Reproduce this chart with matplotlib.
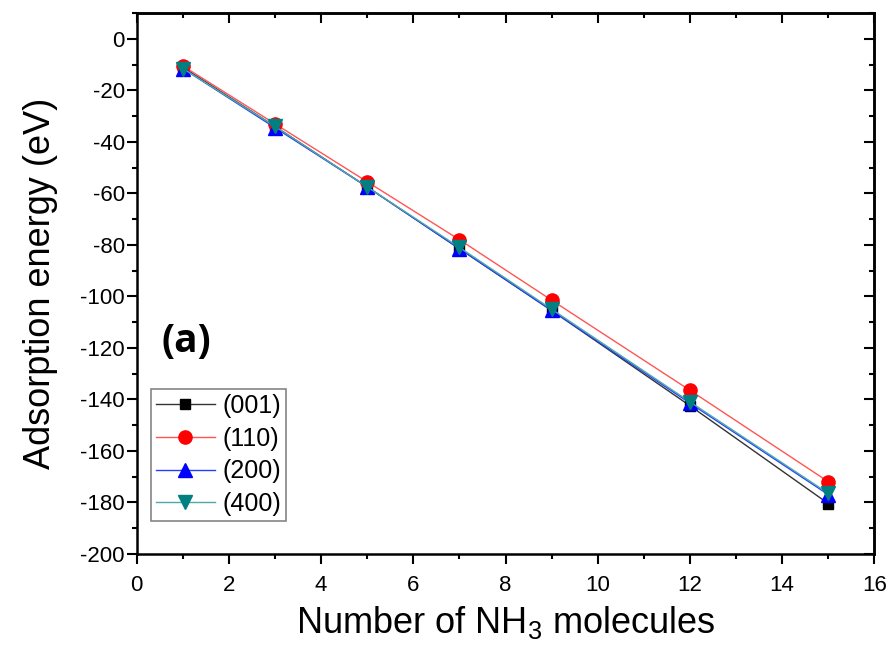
import numpy as np
import matplotlib.pyplot as plt
from matplotlib.ticker import MultipleLocator

plt.rcParams['font.family'] = ['Liberation Sans', 'DejaVu Sans']
plt.rcParams['axes.unicode_minus'] = False
plt.rcParams['mathtext.fontset'] = 'custom'
plt.rcParams['mathtext.rm'] = 'Liberation Sans'
plt.rcParams['mathtext.it'] = 'Liberation Sans:italic'

# Data
n_nh3 = [1, 3, 5, 7, 9, 12, 15]
e_001 = [-11, -34, -57.5, -81.5, -105.5, -142.5, -180.5]
e_110 = [-10.5, -33, -55.5, -78, -101.5, -136.5, -172]
e_200 = [-11.5, -34.5, -57.5, -81.5, -105.5, -141.5, -177]
e_400 = [-11.5, -34, -57.5, -81, -105, -141, -176.5]
labels = ['(001)', '(110)', '(200)', '(400)']

fig = plt.figure(figsize=(8.94, 6.6), dpi=100)
ax = fig.add_axes([0.153, 0.161, 0.825, 0.819])

ax.plot(n_nh3, e_001, color='#333333', lw=1.0, marker='s', ms=7.5, mfc='black', mec='black', label=labels[0])
ax.plot(n_nh3, e_110, color='#ff5555', lw=1.0, marker='o', ms=9.5, mfc='red', mec='red', label=labels[1])
ax.plot(n_nh3, e_200, color='#2040ff', lw=1.0, marker='^', ms=9.5, mfc='blue', mec='blue', label=labels[2])
ax.plot(n_nh3, e_400, color='#50a8a8', lw=1.0, marker='v', ms=9.5, mfc='#008080', mec='#008080', label=labels[3])

ax.set_xlim(0, 16)
ax.set_ylim(-200, 10)
ax.xaxis.set_major_locator(MultipleLocator(2))
ax.xaxis.set_minor_locator(MultipleLocator(1))
ax.yaxis.set_major_locator(MultipleLocator(20))
ax.yaxis.set_minor_locator(MultipleLocator(10))

for s in ax.spines.values():
    s.set_linewidth(1.8)
ax.tick_params(which='both', direction='out', width=1.5, labelsize=16, top=False, right=False)
ax.tick_params(which='major', length=7)
ax.tick_params(which='minor', length=3.5)
ax.tick_params(axis='x', which='major', pad=8)
ax.tick_params(axis='y', which='major', pad=1.5)

# mirrored inward ticks on top and right
sec_x = ax.secondary_xaxis('top')
sec_x.xaxis.set_major_locator(MultipleLocator(2))
sec_x.xaxis.set_minor_locator(MultipleLocator(1))
sec_x.tick_params(which='both', direction='in', width=1.5, labeltop=False)
sec_x.tick_params(which='major', length=7)
sec_x.tick_params(which='minor', length=3.5)
sec_y = ax.secondary_yaxis('right')
sec_y.yaxis.set_major_locator(MultipleLocator(20))
sec_y.yaxis.set_minor_locator(MultipleLocator(10))
sec_y.tick_params(which='both', direction='in', width=1.5, labelright=False)
sec_y.tick_params(which='major', length=7)
sec_y.tick_params(which='minor', length=3.5)
for s in list(sec_x.spines.values()) + list(sec_y.spines.values()):
    s.set_linewidth(1.8)

ax.set_xlabel('Number of NH$_3$ molecules', fontsize=26, labelpad=6)
ax.set_ylabel('Adsorption energy (eV)', fontsize=26, labelpad=16)

ax.text(0.034, 0.392, '(a)', transform=ax.transAxes, fontsize=28, fontweight='bold',
        family=['Open Sans', 'DejaVu Sans'], va='center')

leg = ax.legend(loc='upper left', bbox_to_anchor=(0.019, 0.305), fontsize=18, frameon=True,
                fancybox=False, edgecolor='#666666', handlelength=2.35, borderpad=0.2,
                labelspacing=0.35, handletextpad=0.3, borderaxespad=0)
leg.get_frame().set_linewidth(1.2)

fig.savefig('out.png', dpi=100)
